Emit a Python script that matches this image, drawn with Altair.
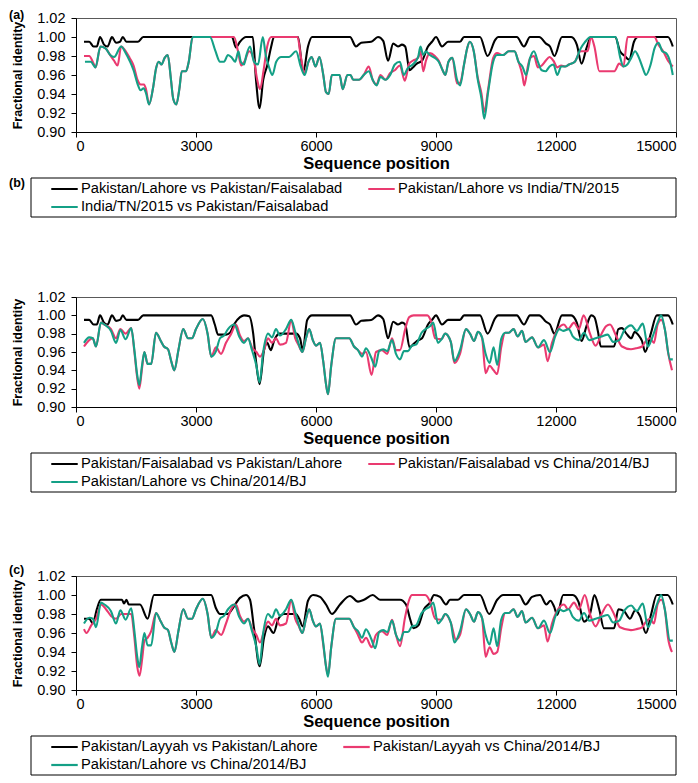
import altair as alt
import pandas as pd

FONT = "Liberation Sans"

X_TICKS = [0, 3000, 6000, 9000, 12000, 15000]
Y_TICKS = [0.90, 0.92, 0.94, 0.96, 0.98, 1.00, 1.02]
COLORS = ["#000000", "#EA3A70", "#14A086"]

# Pakistan/Lahore vs Pakistan/Faisalabad (panel a)
LF_A = [(200,.995),(330,.995),(440,.990),(520,.990),(600,1.000),(700,.992),(790,.990),(900,1.000),(1000,.994),(1100,.995),
        (1170,1.000),(1260,.995),(1550,.995),(1680,1.000),(3900,1.000),(4000,.989),(4100,.995),(4250,1.000),(4420,1.000),(4500,.955),
        (4590,.925),(4680,.955),(4780,.970),(4880,.990),(4950,1.000),(5550,1.000),(5680,.963),(5800,.990),(5900,1.000),(6850,1.000),
        (7000,.990),(7130,.994),(7380,.995),(7550,1.000),(7680,.996),(7800,.975),(7930,.993),(8050,.990),(8150,.992),(8230,.990),
        (8340,.965),(8420,.968),(8520,.972),(8650,.975),(8800,.990),(8900,.995),(9000,1.000),(9150,.990),(9300,.995),(9600,.995),
        (9700,1.000),(10100,1.000),(10290,.980),(10480,.997),(10550,1.000),(11020,1.000),(11200,.990),(11350,1.000),(11580,1.000),(11750,.993),
        (11850,.990),(11960,.980),(12150,1.000),(12380,1.000),(12520,.992),(12640,.972),(12760,.988),(12880,1.000),(13480,1.000),(13600,.985),
        (13720,.980),(13830,.976),(13950,.995),(14050,1.000),(14800,1.000),(14920,.990)]

# Pakistan/Faisalabad vs Pakistan/Lahore (panel b)
LF_B = [(200,.995),(330,.995),(440,.990),(520,.990),(600,1.000),(700,.992),(790,.990),(900,1.000),(1000,.994),(1100,.995),
        (1170,1.000),(1260,.995),(1550,.995),(1680,1.000),(3380,1.000),(3470,.990),(3550,.979),(3750,.979),(3850,.981),(3950,.990),
        (4100,.998),(4200,1.000),(4330,.999),(4430,.980),(4500,.950),(4590,.925),(4700,.962),(4780,.970),(4870,.962),(4950,.972),
        (5080,.980),(5500,.980),(5600,.975),(5670,.962),(5780,.995),(5900,1.000),(6850,1.000),(7000,.990),(7130,.994),(7380,.995),
        (7550,1.000),(7680,.996),(7800,.975),(7930,.993),(8050,.990),(8150,.992),(8230,.990),(8340,.965),(8420,.968),(8520,.972),
        (8650,.975),(8800,.990),(8900,.995),(9000,1.000),(9150,.990),(9300,.995),(9600,.995),(9700,1.000),(10100,1.000),(10290,.980),
        (10480,.997),(10550,1.000),(11020,1.000),(11200,.990),(11350,1.000),(11580,1.000),(11750,.993),(11850,.990),(11960,.980),(12150,1.000),
        (12380,1.000),(12520,.992),(12640,.972),(12760,.988),(12880,1.000),(12960,.998),(13050,.982),(13120,.966),(13450,.966),(13560,.985),
        (13650,.986),(13760,.980),(13880,.975),(13970,.982),(14050,.979),(14150,.972),(14230,.960),(14370,.980),(14520,1.000),(14800,1.000),
        (14920,.990)]

# Pakistan/Lahore vs India/TN/2015
LI = [(200,.980),(330,.980),(430,.973),(490,.968),(612,.990),(739,.988),(855,.981),(953,.975),(1040,.970),(1128,.990),
      (1244,.985),(1341,.978),(1439,.970),(1536,.955),(1614,.950),(1700,.950),(1750,.945),(1827,.929),(1925,.946),(2002,.967),
      (2070,.974),(2138,.971),(2216,.978),(2294,.981),(2372,.956),(2430,.935),(2508,.929),(2586,.946),(2644,.964),(2751,.964),
      (2819,.974),(2916,1.000),(3950,1.000),(4050,.985),(4130,.970),(4220,.975),(4330,.985),(4450,.975),(4530,.955),(4600,.945),
      (4690,.965),(4780,.990),(4880,1.000),(5540,1.000),(5618,.980),(5715,.962),(5813,.974),(5890,.979),(5988,.969),(6085,.979),
      (6182,.960),(6250,.942),(6318,.940),(6396,.960),(6590,.960),(6668,.945),(6785,.960),(6862,.960),(6930,.955),(7076,.955),
      (7193,.960),(7319,.969),(7416,.955),(7514,.950),(7611,.960),(7737,.955),(7854,.962),(7970,.965),(8097,.970),(8220,.954),
      (8330,.972),(8418,.975),(8554,.978),(8612,.985),(8680,.964),(8748,.975),(8845,.983),(8972,.980),(9069,.975),(9166,.965),
      (9234,.960),(9312,.974),(9409,.978),(9526,.951),(9603,.952),(9701,.971),(9778,.988),(9846,.995),(9944,.985),(10041,.958),
      (10138,.940),(10206,.921),(10303,.945),(10430,.978),(10527,.983),(10673,.981),(10818,.985),(10964,.985),(11061,.974),(11159,.960),
      (11207,.949),(11300,.970),(11353,.978),(11450,.980),(11547,.968),(11645,.970),(11742,.975),(11839,.979),(11936,.975),(12033,.968),
      (12130,.970),(12228,.969),(12325,.971),(12471,.974),(12617,.985),(12790,.985),(12875,1.000),(12960,.990),(13083,.964),(13460,.964),
      (13580,.972),(13686,.969),(13790,1.000),(14460,1.000),(14560,.992),(14680,.985),(14800,.975),(14920,.969)]

# India/TN/2015 vs Pakistan/Faisalabad
IF = [(224,.974),(369,.974),(486,.968),(612,.990),(739,.988),(855,.981),(953,.979),(1128,.990),(1244,.983),(1341,.975),
      (1439,.965),(1536,.951),(1614,.944),(1691,.946),(1750,.941),(1827,.929),(1925,.946),(2002,.967),(2070,.974),(2138,.971),
      (2216,.978),(2294,.981),(2372,.956),(2430,.935),(2508,.929),(2586,.946),(2644,.964),(2751,.964),(2819,.974),(2916,1.000),
      (3350,1.000),(3480,.986),(3600,.974),(3700,.974),(3800,.981),(3900,.978),(3980,.974),(4060,.985),(4120,.974),(4200,.971),
      (4260,.981),(4350,.990),(4450,.974),(4550,.971),(4670,1.000),(4743,.981),(4821,.969),(4909,.960),(5006,.974),(5132,.979),
      (5327,.979),(5502,.985),(5618,.969),(5715,.960),(5813,.974),(5890,.979),(5988,.969),(6085,.979),(6182,.960),(6250,.942),
      (6318,.940),(6396,.960),(6590,.960),(6668,.945),(6785,.960),(6862,.960),(6930,.955),(7076,.955),(7193,.960),(7319,.964),
      (7416,.955),(7514,.949),(7611,.958),(7737,.955),(7854,.960),(7970,.971),(8097,.974),(8194,.960),(8291,.967),(8418,.971),
      (8554,.979),(8612,.990),(8680,.981),(8748,.985),(8845,.981),(8972,.978),(9069,.974),(9166,.965),(9234,.960),(9312,.974),
      (9409,.978),(9526,.955),(9603,.949),(9701,.971),(9778,.988),(9846,.995),(9944,.985),(10041,.956),(10138,.935),(10206,.914),
      (10303,.942),(10430,.974),(10527,.981),(10673,.981),(10818,.985),(10964,.985),(11061,.974),(11159,.969),(11256,.960),(11353,.978),
      (11450,.985),(11547,.974),(11645,.965),(11742,.964),(11839,.969),(11936,.971),(12033,.960),(12130,.969),(12228,.969),(12325,.971),
      (12471,.974),(12617,.988),(12714,.994),(12860,1.000),(13491,1.000),(13608,.978),(13686,.969),(13783,.971),(13880,.978),(13977,.985),
      (14075,.978),(14172,.967),(14250,.960),(14366,.971),(14463,.988),(14561,.994),(14658,.985),(14755,.983),(14852,.974),(14920,.960)]

# Pakistan/Lahore vs China/2014/BJ
LC = [(200,.970),(330,.976),(420,.975),(500,.966),(625,.992),(710,.990),(875,.983),(1000,.970),(1110,.984),(1240,.974),
      (1380,.986),(1460,.962),(1530,.935),(1583,.924),(1650,.945),(1710,.960),(1790,.947),(1880,.947),(2000,.981),(2120,.972),
      (2200,.966),(2300,.963),(2380,.950),(2460,.940),(2560,.962),(2680,.985),(2800,.975),(2900,.975),(3000,.985),(3170,.996),
      (3290,.980),(3380,.955),(3500,.961),(3600,.975),(3700,.978),(3800,.985),(3960,.990),(4080,.977),(4200,.970),(4300,.975),
      (4400,.962),(4510,.945),(4590,.927),(4680,.960),(4800,.980),(4900,.976),(5000,.985),(5100,.978),(5250,.985),(5380,.995),
      (5480,.982),(5560,.970),(5660,.960),(5750,.975),(5830,.985),(5920,.973),(6000,.967),(6100,.970),(6180,.950),(6250,.925),
      (6300,.914),(6380,.945),(6500,.975),(6700,.975),(6830,.975),(6950,.966),(7050,.962),(7150,.955),(7250,.964),(7380,.954),
      (7480,.944),(7580,.961),(7680,.963),(7780,.961),(7900,.973),(8000,.958),(8100,.952),(8200,.961),(8300,.961),(8400,.967),
      (8500,.968),(8640,.981),(8740,.985),(8850,.988),(8930,.992),(9050,.970),(9140,.974),(9230,.980),(9370,.971),(9460,.950),
      (9600,.962),(9750,.985),(9850,.980),(9950,.972),(10050,.982),(10150,.976),(10240,.958),(10340,.948),(10440,.965),(10530,.946),
      (10630,.974),(10730,.981),(10820,.981),(10940,.985),(11040,.977),(11150,.983),(11240,.971),(11400,.976),(11550,.965),(11700,.973),
      (11850,.960),(11980,.977),(12080,.985),(12180,.983),(12320,.985),(12420,.977),(12570,.973),(12700,.981),(12830,.973),(12990,.975),
      (13140,.977),(13290,.979),(13430,.971),(13580,.973),(13700,.983),(13880,.989),(14020,.983),(14170,.991),(14300,.966),(14400,.975),
      (14540,.992),(14630,1.000),(14720,.985),(14850,.952),(14920,.952)]

# Pakistan/Faisalabad vs China/2014/BJ
FC = [(200,.966),(330,.973),(420,.975),(500,.966),(625,.992),(710,.990),(875,.985),(1000,.975),(1110,.985),(1240,.980),
      (1380,.986),(1460,.960),(1530,.932),(1583,.920),(1650,.942),(1710,.960),(1790,.947),(1880,.947),(2000,.981),(2120,.972),
      (2200,.966),(2300,.963),(2380,.950),(2460,.940),(2560,.962),(2680,.985),(2800,.975),(2900,.975),(3000,.985),(3170,.996),
      (3290,.980),(3380,.955),(3500,.965),(3625,.958),(3750,.970),(3880,.980),(4000,.990),(4100,.978),(4200,.972),(4300,.975),
      (4400,.965),(4510,.960),(4600,.955),(4700,.962),(4800,.975),(4900,.970),(5000,.975),(5100,.968),(5250,.970),(5380,.995),
      (5480,.975),(5560,.968),(5660,.960),(5750,.975),(5830,.985),(5920,.973),(6000,.967),(6100,.970),(6180,.950),(6250,.925),
      (6300,.914),(6380,.945),(6500,.975),(6700,.975),(6830,.975),(6950,.966),(7050,.962),(7150,.958),(7250,.960),(7390,.935),
      (7500,.960),(7650,.962),(7780,.958),(7900,.975),(8000,.962),(8100,.962),(8230,.985),(8330,.998),(8440,1.000),(8780,1.000),
      (8880,.993),(8980,.975),(9140,.974),(9230,.980),(9370,.971),(9460,.948),(9600,.958),(9750,.985),(9850,.980),(9950,.972),
      (10050,.982),(10150,.976),(10240,.937),(10340,.945),(10440,.940),(10530,.936),(10630,.965),(10730,.981),(10820,.981),(10940,.985),
      (11040,.977),(11150,.983),(11240,.971),(11400,.976),(11550,.965),(11700,.968),(11790,.950),(11900,.970),(12050,.985),(12200,.990),
      (12300,.985),(12450,.992),(12570,.985),(12690,1.000),(12850,.980),(12990,.967),(13140,.980),(13250,.988),(13350,.990),(13500,.978),
      (13650,.966),(13875,.963),(14000,.964),(14150,.966),(14250,.972),(14350,.975),(14450,.970),(14540,.990),(14630,.995),(14720,.985),
      (14800,.960),(14900,.940)]

# Pakistan/Layyah vs Pakistan/Lahore
YL = [(200,.975),(330,.975),(420,.970),(520,.985),(620,.995),(1150,.995),(1200,.991),(1260,.995),(1320,.990),(1600,.990),
      (1790,.975),(1950,1.000),(3380,1.000),(3500,.986),(3600,.980),(3800,.980),(3900,.985),(4100,.997),(4250,1.000),(4350,.995),
      (4450,.965),(4590,.925),(4700,.955),(4800,.967),(4940,.960),(5060,.975),(5200,.980),(5500,.980),(5580,.975),(5670,.967),
      (5800,.994),(5930,1.000),(6100,.998),(6250,.990),(6400,.980),(6600,.990),(6850,.999),(7050,.993),(7200,.995),(7420,1.000),
      (7600,.995),(8100,.995),(8250,.990),(8350,.975),(8440,.965),(8560,.968),(8700,.985),(8850,.992),(8950,1.000),(9100,.998),
      (9250,.990),(9350,.995),(9550,.995),(9700,1.000),(10100,1.000),(10330,.980),(10530,.995),(10680,1.000),(11080,1.000),(11240,.990),
      (11400,.998),(11600,1.000),(11760,.990),(11860,.994),(11950,.988),(12030,.979),(12180,1.000),(12420,1.000),(12560,.993),(12700,.972),
      (12850,.980),(12960,1.000),(13080,.985),(13200,.965),(13450,.965),(13560,.985),(13700,.983),(13850,.975),(13980,.984),(14100,.978),
      (14250,.960),(14380,.980),(14520,1.000),(14790,1.000),(14920,.990)]

# Pakistan/Layyah vs China/2014/BJ
YC = [(200,.964),(260,.960),(380,.968),(500,.975),(625,.990),(750,.985),(875,.978),(1000,.975),(1130,.980),(1250,.980),
      (1380,.980),(1460,.955),(1530,.925),(1590,.915),(1660,.935),(1710,.952),(1790,.955),(1880,.962),(2000,.981),(2120,.972),
      (2200,.966),(2300,.963),(2380,.950),(2460,.940),(2560,.962),(2680,.985),(2800,.975),(2900,.975),(3000,.985),(3170,.996),
      (3290,.980),(3380,.955),(3500,.963),(3630,.958),(3750,.970),(3880,.985),(4000,.990),(4100,.978),(4200,.972),(4300,.975),
      (4400,.965),(4510,.958),(4600,.950),(4700,.962),(4800,.972),(4900,.968),(5000,.975),(5100,.968),(5250,.970),(5380,.995),
      (5480,.975),(5560,.968),(5660,.960),(5750,.975),(5830,.985),(5920,.973),(6000,.967),(6100,.970),(6180,.948),(6250,.925),
      (6300,.916),(6380,.945),(6500,.975),(6700,.975),(6830,.975),(6950,.966),(7050,.958),(7150,.950),(7250,.955),(7390,.945),
      (7500,.958),(7650,.962),(7780,.958),(7900,.974),(8000,.958),(8100,.946),(8220,.975),(8330,.995),(8400,1.000),(8730,1.000),
      (8850,.993),(8980,.975),(9140,.974),(9230,.980),(9370,.971),(9500,.953),(9600,.958),(9750,.985),(9850,.980),(9950,.972),
      (10050,.982),(10150,.976),(10240,.935),(10340,.945),(10440,.938),(10530,.940),(10630,.965),(10730,.981),(10820,.981),(10940,.985),
      (11040,.977),(11150,.983),(11240,.971),(11400,.976),(11550,.965),(11700,.968),(11790,.951),(11900,.970),(12050,.985),(12200,.990),
      (12300,.985),(12450,.992),(12570,.985),(12720,1.000),(12850,.980),(12990,.967),(13140,.980),(13300,.990),(13450,.980),(13600,.966),
      (13875,.963),(14000,.964),(14150,.966),(14250,.972),(14350,.975),(14450,.970),(14540,.990),(14630,.995),(14720,.985),(14800,.955),
      (14900,.940)]

NAMES_A = ["Pakistan/Lahore vs Pakistan/Faisalabad", "Pakistan/Lahore vs India/TN/2015",
           "India/TN/2015 vs Pakistan/Faisalabad"]
NAMES_B = ["Pakistan/Faisalabad vs Pakistan/Lahore", "Pakistan/Faisalabad vs China/2014/BJ",
           "Pakistan/Lahore vs China/2014/BJ"]
NAMES_C = ["Pakistan/Layyah vs Pakistan/Lahore", "Pakistan/Layyah vs China/2014/BJ",
           "Pakistan/Lahore vs China/2014/BJ"]

W = 600


def panel(names, series, H, labels):
    rows = []
    for name, pts in zip(names, series):
        for s, v in pts:
            rows.append({"seq": s, "val": v, "series": name})
    df = pd.DataFrame(rows)
    x = alt.X("seq:Q", scale=alt.Scale(domain=[0, 15000], nice=False),
              axis=alt.Axis(values=X_TICKS, format="d", title="Sequence position"))
    y = alt.Y("val:Q", scale=alt.Scale(domain=[0.90, 1.02], nice=False, zero=False),
              axis=alt.Axis(values=Y_TICKS, format=".2f", title="Fractional identity"))
    color = alt.Color("series:N", scale=alt.Scale(domain=names, range=COLORS),
                      legend=alt.Legend(title=None, orient="none", direction="horizontal",
                                        legendX=-26, legendY=H + 48,
                                        columns=2, columnPadding=24, rowPadding=0, clipHeight=18,
                                        symbolType="stroke", symbolSize=700, symbolStrokeWidth=2.2,
                                        labelFontSize=14.7, labelOffset=2, labelLimit=500, padding=0,
                                        labelFont=FONT, labelColor="black"))
    base = alt.Chart(df)
    layers = [base.transform_filter(alt.datum.series == n)
              .mark_line(strokeWidth=2.1, interpolate="monotone")
              .encode(x=x, y=y, color=color) for n in names]
    box = alt.Chart(pd.DataFrame({"k": [0]})).mark_rect(fillOpacity=0, stroke="black", strokeWidth=1).encode(
        x=alt.value(-45), x2=alt.value(W), y=alt.value(H + 46), y2=alt.value(H + 85))
    layers.append(box)
    for txt, yv in labels:
        layers.append(alt.Chart(pd.DataFrame({"t": [txt]})).mark_text(
            align="left", baseline="middle", fontSize=12.5, fontWeight="bold", font=FONT, color="black"
        ).encode(text="t:N", x=alt.value(-67), y=alt.value(yv)))
    return alt.layer(*layers).properties(width=W, height=H)


pa = panel(NAMES_A, [LF_A, LI, IF], 114, [("(a)", -3), ("(b)", 114 + 51)])
pb = panel(NAMES_B, [LF_B, FC, LC], 110, [])
pc = panel(NAMES_C, [YL, YC, LC], 114, [("(c)", -6)])

chart = alt.vconcat(pa, pb, pc, spacing=70).resolve_scale(color="independent").resolve_legend(
    color="independent").properties(padding=0).configure(font=FONT).configure_axis(
    labelFont=FONT, titleFont=FONT, labelFontSize=14.5, labelColor="black", titleColor="black",
    domainColor="black", tickColor="black", tickSize=5, grid=False
).configure_axisX(labelPadding=2, titlePadding=3, titleFontSize=16.5, titleFontWeight="bold"
).configure_axisY(labelPadding=6, titlePadding=12, titleFontSize=12.5, titleFontWeight="bold"
).configure_view(stroke="#595959", strokeWidth=1)

chart.save("out.html", embed_options={"renderer": "svg", "actions": False})
